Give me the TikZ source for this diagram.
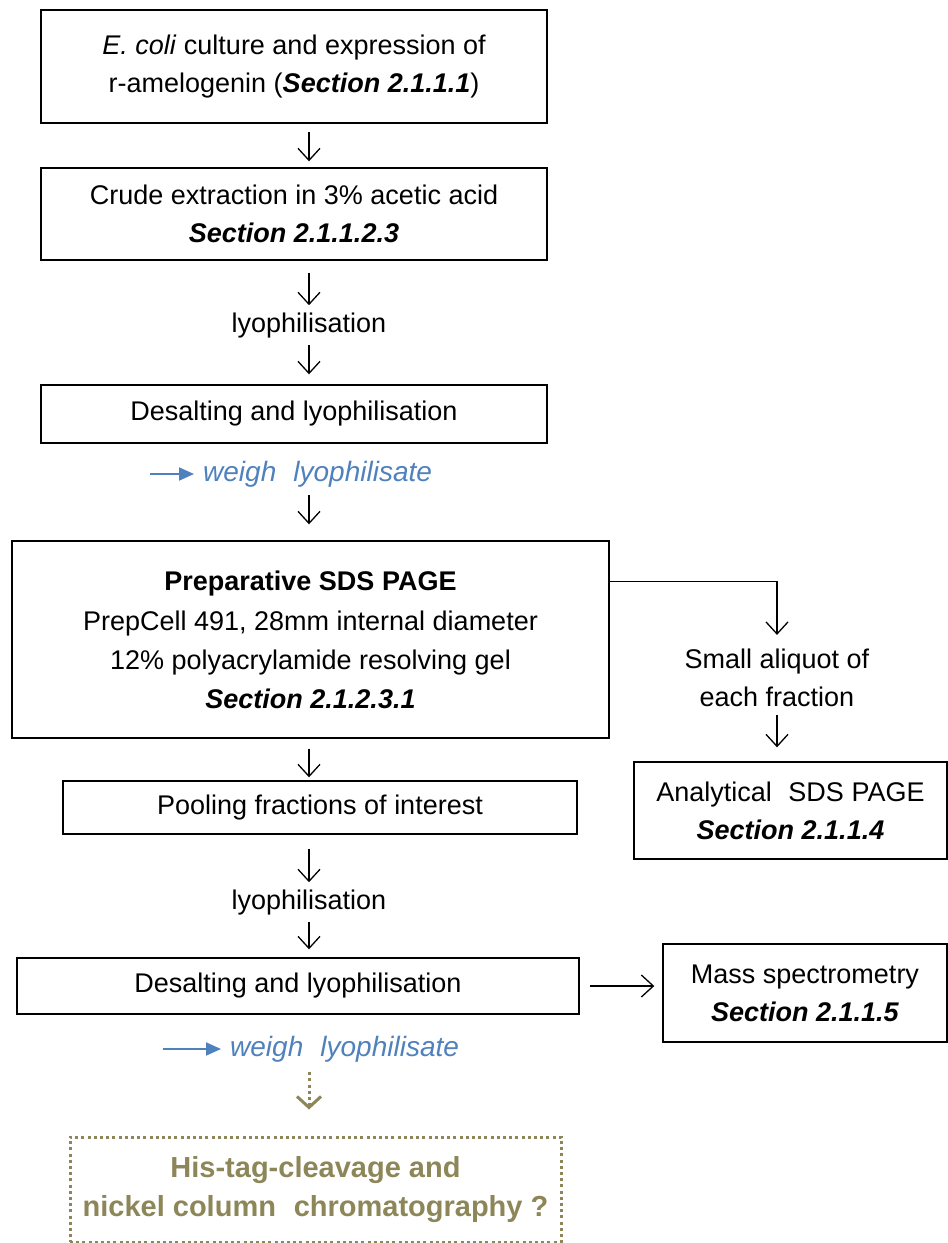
\documentclass[tikz,border=0pt]{standalone}
\usepackage{fontspec}
\setmainfont{Liberation Sans}
\usetikzlibrary{arrows.meta}
\definecolor{olivetxt}{RGB}{140,134,88}
\definecolor{weighblue}{RGB}{79,129,189}
\begin{document}
\begin{tikzpicture}[x=1pt,y=-1pt,
  font=\fontsize{27}{38}\selectfont,
  box/.style={draw, line width=1.4pt, inner sep=0pt, align=center},
  lbl/.style={inner sep=0pt, align=center},
  arr/.style={line width=1.3pt, -{Straight Barb[length=12pt,width=22pt]}},
  bluearr/.style={draw=weighblue, line width=2pt, shorten >=9pt,
    -{Triangle[length=15pt,width=13pt]}},
  weighlbl/.style={inner sep=0pt, anchor=west, text=weighblue,
    font=\fontsize{28}{38}\selectfont\itshape},
  opt/.style={draw=olivetxt, line width=3pt, dash pattern=on 3pt off 3.2pt, inner sep=0pt,
    align=center, text=olivetxt, font=\fontsize{29}{39}\selectfont\bfseries},
  optarr/.style={draw=olivetxt, line width=3pt, dash pattern=on 3pt off 3.2pt,
    -{Straight Barb[length=11pt,width=24pt,line width=3pt]}}]
\useasboundingbox (0,0) rectangle (948,1243);
\coordinate (ax) at (309,0);

% main column
\node[box, minimum width=506pt, minimum height=113pt] (b1) at (294,66.5)
  {\textit{E. coli} culture and expression of\\
   r-amelogenin (\textbf{\textit{Section 2.1.1.1}})};
\node[box, minimum width=506pt, minimum height=92pt] (b2) at (294,214)
  {Crude extraction in 3\% acetic acid\\ \textbf{\textit{Section 2.1.1.2.3}}};
\node[lbl] (lyo1) at (309,326) {lyophilisation};
\node[box, minimum width=506pt, minimum height=58pt] (b3) at (294,414)
  {Desalting and lyophilisation};
\coordinate (wa1) at (150,474);
\node[weighlbl] (weigh1) at (203,474) {weigh\,\, lyophilisate};
\node[box, minimum width=597pt, minimum height=197pt] (b4) at (310.5,639.5)
  {\textbf{Preparative SDS PAGE}\\[2pt]
   PrepCell 491, 28mm internal diameter\\[1pt]
   12\% polyacrylamide resolving gel\\[1pt]
   \textbf{\textit{Section 2.1.2.3.1}}};
\node[box, minimum width=514pt, minimum height=53pt] (pool) at (320,807.5)
  {Pooling fractions of interest};
\node[lbl] (lyo2) at (309,903) {lyophilisation};
\node[box, minimum width=562pt, minimum height=56pt] (des2) at (298,986)
  {Desalting and lyophilisation};
\coordinate (wa2) at (163,1049);
\node[weighlbl] (weigh2) at (230,1049) {weigh\,\, lyophilisate};
\node[opt, minimum width=491pt, minimum height=105pt] (opt) at (315.5,1189.5)
  {His-tag-cleavage and\\ nickel column\,\, chromatography ?};

% side branch
\node[lbl] (aliq) at (777,678) {Small aliquot of\\ each fraction};
\node[box, minimum width=313pt, minimum height=97pt] (ana) at (790.5,810.5)
  {Analytical\,\, SDS PAGE\\ \textbf{\textit{Section 2.1.1.4}}};
\node[box, minimum width=284pt, minimum height=98pt] (mass) at (805,993)
  {Mass spectrometry\\ \textbf{\textit{Section 2.1.1.5}}};

% connectors
\draw[arr, shorten <=8pt, shorten >=6pt] (b1.south -| ax) -- (b2.north -| ax);
\draw[arr, shorten <=12pt, shorten >=8pt] (b2.south -| ax) -- (lyo1.north);
\draw[arr, shorten <=6pt, shorten >=10pt] (lyo1.south) -- (b3.north -| ax);
\draw[bluearr] (wa1) -- (weigh1.west);
\draw[arr, shorten <=8pt, shorten >=16pt] (weigh1.south -| ax) -- (b4.north -| ax);
\draw[arr, shorten <=10pt, shorten >=3pt] (b4.south -| ax) -- (pool.north -| ax);
\draw[arr, shorten <=14pt, shorten >=8pt] (pool.south -| ax) -- (lyo2.north);
\draw[arr, shorten <=6pt, shorten >=8pt] (lyo2.south) -- (des2.north -| ax);
\draw[optarr, shorten <=10pt, shorten >=26pt] (weigh2.south -| ax) -- (opt.north -| ax);
\draw[arr, shorten >=14pt] ([yshift=-41pt]b4.north east) -| (aliq.north);
\draw[arr, shorten <=8pt, shorten >=14pt] (aliq.south) -- (ana.north -| aliq.south);
\draw[arr, shorten <=10pt, shorten >=8pt] (des2.east) -- (mass.west |- des2.east);
\draw[bluearr] (wa2) -- (weigh2.west);
\end{tikzpicture}
\end{document}
